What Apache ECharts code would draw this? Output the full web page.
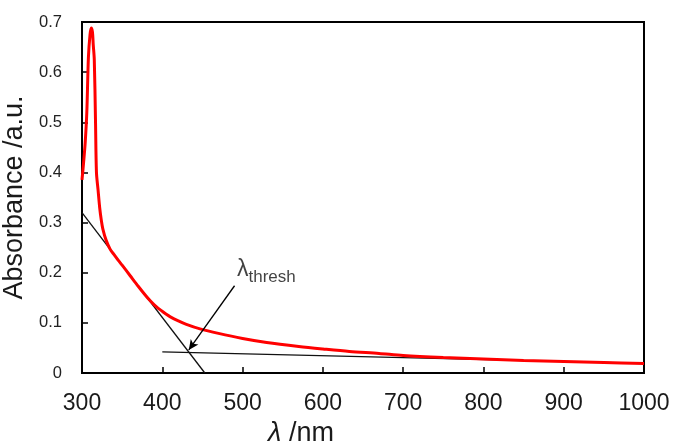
<!DOCTYPE html>
<html>
<head>
<meta charset="utf-8">
<script src="https://cdn.jsdelivr.net/npm/echarts@6/dist/echarts.min.js"></script>
<style>html,body{margin:0;padding:0;background:#fff}#c{width:673px;height:441px}</style>
</head>
<body>
<div id="c"></div>
<script>
// Absorbance spectrum (red curve)
const wavelength = [300, 302, 304, 306, 308, 310, 311.5, 313, 314, 315.3, 316.8, 318, 320, 322, 324, 326, 330, 335, 340, 345, 350, 360, 370, 380, 385, 390, 395, 400, 405, 410, 420, 430, 447, 470, 500, 530, 570, 600, 633, 670, 700, 750, 800, 850, 900, 950, 1000];
const absorbance = [0.385, 0.42, 0.46, 0.52, 0.63, 0.675, 0.688, 0.68, 0.655, 0.625, 0.505, 0.40, 0.365, 0.33, 0.305, 0.287, 0.265, 0.247, 0.236, 0.225, 0.215, 0.194, 0.173, 0.153, 0.144, 0.136, 0.129, 0.123, 0.117, 0.112, 0.104, 0.097, 0.088, 0.079, 0.069, 0.061, 0.053, 0.048, 0.043, 0.039, 0.035, 0.031, 0.028, 0.025, 0.023, 0.021, 0.019];
// Tangent (onset) line and baseline
const tangentX = [300, 453];
const tangentY = [0.32, 0];
const baselineX = [400, 1000];
const baselineY = [0.042, 0.019];
// Arrow pointing to the threshold wavelength
const arrowFrom = [490, 0.174];
const arrowTo = [433, 0.046];
const labelAt = [493, 0.21];
const xTicks = [300, 1000, 100];
const yTicks = [0, 0.7, 0.1];

const zip = (a, b) => a.map((v, i) => [v, b[i]]);
const font = '"Liberation Sans", Arial, sans-serif';

const chart = echarts.init(document.getElementById('c'));
chart.setOption({
  animation: false,
  backgroundColor: '#fff',
  grid: { left: 82, right: 29, top: 22, bottom: 68, show: true, borderColor: '#000', borderWidth: 2,
    containLabel: false, outerBoundsMode: 'none' },
  xAxis: {
    type: 'value', min: xTicks[0], max: xTicks[1], interval: xTicks[2],
    axisLine: { show: true, onZero: false, lineStyle: { color: '#000', width: 2 } },
    axisTick: { show: true, inside: true, length: 6, lineStyle: { color: '#000', width: 1.5 } },
    splitLine: { show: false },
    axisLabel: { color: '#1a1a1a', fontSize: 23, fontFamily: font, margin: 19, formatter: v => String(v) },
    name: '{i|λ} /nm', nameLocation: 'middle', nameGap: 44,
    nameTextStyle: { color: '#1a1a1a', fontSize: 27, fontFamily: font, padding: [0, 124, 0, 0],
      rich: { i: { fontStyle: 'italic', fontSize: 27, fontFamily: font, color: '#1a1a1a' } } }
  },
  yAxis: {
    type: 'value', min: yTicks[0], max: yTicks[1], interval: yTicks[2],
    axisLine: { show: true, onZero: false, lineStyle: { color: '#000', width: 2 } },
    axisTick: { show: true, inside: true, length: 6, lineStyle: { color: '#000', width: 1.5 } },
    splitLine: { show: false },
    axisLabel: { color: '#222', fontSize: 16.5, fontFamily: font, margin: 20, formatter: v => String(v) },
    name: 'Absorbance /a.u.', nameLocation: 'middle', nameGap: 46,
    nameTextStyle: { color: '#1a1a1a', fontSize: 27, fontFamily: font }
  },
  series: [
    {
      type: 'line', data: zip(baselineX, baselineY), symbol: 'none', silent: true,
      lineStyle: { color: '#111', width: 1.3 }, z: 2
    },
    {
      type: 'line', data: zip(tangentX, tangentY), symbol: 'none', silent: true,
      lineStyle: { color: '#111', width: 1.3 }, z: 2
    },
    {
      type: 'line', data: zip(wavelength, absorbance), symbol: 'none', smooth: 0.3,
      lineStyle: { color: '#ff0000', width: 3 }, z: 3
    },
    {
      type: 'scatter', data: [labelAt], symbolSize: 0, silent: true, z: 5,
      label: {
        show: true, position: 'right', distance: 0,
        formatter: '{a|λ}{b|thresh}',
        rich: {
          a: { fontSize: 23, fontFamily: font, color: '#111', verticalAlign: 'bottom', lineHeight: 26 },
          b: { fontSize: 17, fontFamily: font, color: '#111', verticalAlign: 'bottom', lineHeight: 20, padding: [0, 0, -5, 0] }
        }
      },
      markLine: {
        silent: true, symbol: ['none', 'arrow'], symbolSize: [7, 10],
        lineStyle: { color: '#000', width: 1.3, type: 'solid' },
        label: { show: false },
        data: [[{ coord: arrowFrom }, { coord: arrowTo }]]
      }
    }
  ]
});
</script>
</body>
</html>
